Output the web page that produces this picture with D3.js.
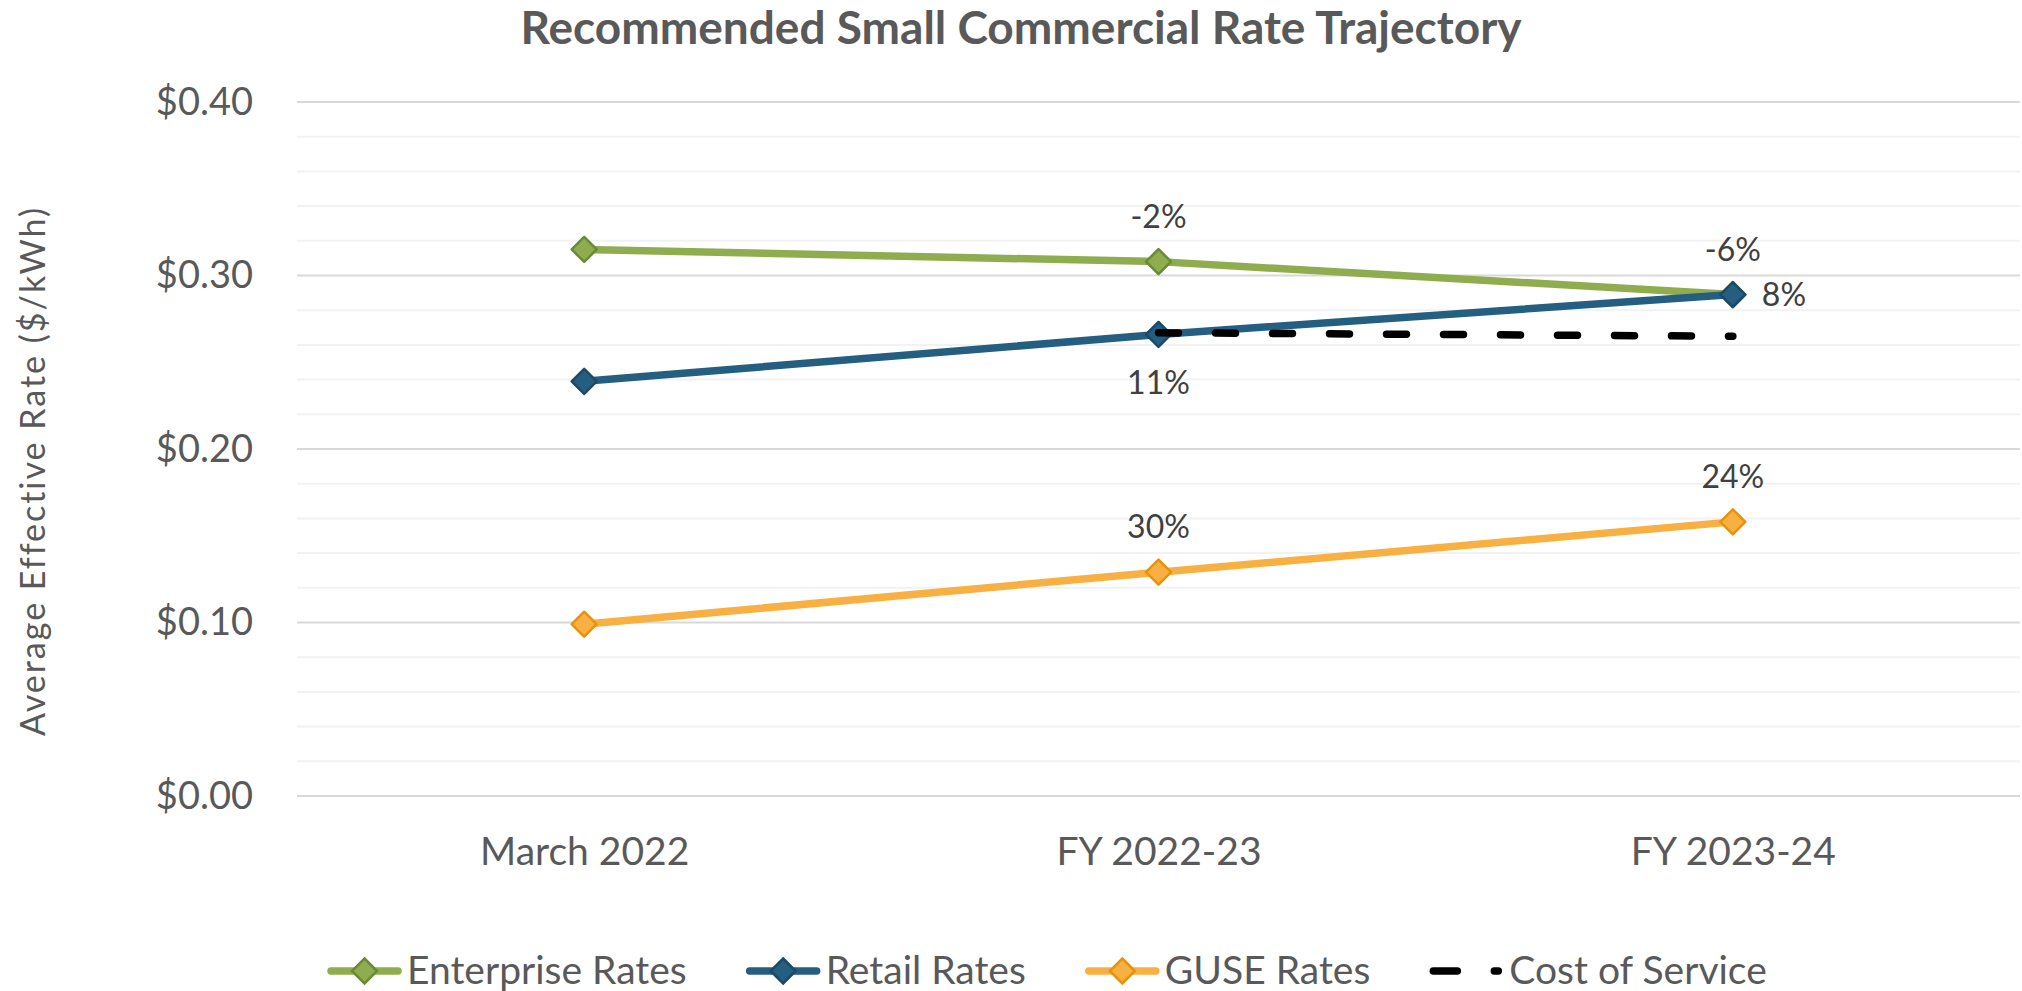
<!DOCTYPE html>
<html>
<head>
<meta charset="utf-8">
<script src="https://cdn.jsdelivr.net/npm/d3@7"></script>
<style>
  body { margin: 0; background: #fff; }
  text { font-family: Lato, "Open Sans", sans-serif; }
</style>
</head>
<body>
<svg id="chart"></svg>
<script>
var categories = ["March 2022", "FY 2022-23", "FY 2023-24"];
var seriesNames = ["Enterprise Rates", "Retail Rates", "GUSE Rates", "Cost of Service"];
var enterpriseRates = [0.315, 0.308, 0.289];
var retailRates = [0.239, 0.266, 0.289];
var guseRates = [0.099, 0.129, 0.158];
var costOfService = [null, 0.267, 0.265];
// percent change labels, per series and category
var enterpriseLabels = [null, "-2%", "-6%"];
var retailLabels = [null, "11%", "8%"];
var guseLabels = [null, "30%", "24%"];
var yTicks = [0, 0.1, 0.2, 0.3, 0.4];

var width = 2022, height = 991;
var margins = {top: 102, bottom: 195, left: 297, right: 2};

var svg = d3.select("#chart")
            .attr("width", width)
            .attr("height", height);

var xScale = d3.scalePoint()
               .domain(categories)
               .range([margins.left, width - margins.right])
               .padding(0.5);

var yScale = d3.scaleLinear()
               .domain([0, 0.4])
               .range([height - margins.bottom, margins.top]);

var series = [
  {name: seriesNames[0], values: enterpriseRates, labels: enterpriseLabels, color: "#8FAD4F", edge: "#6A8A36", marker: true},
  {name: seriesNames[1], values: retailRates, labels: retailLabels, color: "#245E80", edge: "#1C4A66", marker: true},
  {name: seriesNames[2], values: guseRates, labels: guseLabels, color: "#F9B042", edge: "#E8920C", marker: true},
  {name: seriesNames[3], values: costOfService, labels: [null, null, null], color: "#000000", edge: "#000000", marker: false, dash: "20 37"}
];

// gridlines, minor first
var minor = d3.range(0, 0.401, 0.02).filter(function(d){ return Math.round(d * 100) % 10 != 0; });
svg.append("g").selectAll("line")
   .data(minor).enter().append("line")
   .attr("x1", margins.left).attr("x2", width - margins.right)
   .attr("y1", function(d){ return yScale(d); })
   .attr("y2", function(d){ return yScale(d); })
   .attr("stroke", "#F2F2F2").attr("stroke-width", 2);

svg.append("g").selectAll("line")
   .data(yTicks).enter().append("line")
   .attr("x1", margins.left).attr("x2", width - margins.right)
   .attr("y1", function(d){ return yScale(d); })
   .attr("y2", function(d){ return yScale(d); })
   .attr("stroke", "#D9D9D9").attr("stroke-width", 2);

// y axis labels
var yAxis = d3.axisLeft(yScale)
              .tickValues(yTicks)
              .tickFormat(d3.format("$.2f"))
              .tickSize(0)
              .tickPadding(0);
var yG = svg.append("g")
            .attr("transform", "translate(253,0)")
            .call(yAxis);
yG.select(".domain").remove();
yG.selectAll("text")
  .attr("font-family", "Lato, sans-serif")
  .attr("font-size", 38)
  .attr("fill", "#595959");

// x axis labels
var xAxis = d3.axisBottom(xScale).tickSize(0).tickPadding(0);
var xG = svg.append("g")
            .attr("transform", "translate(0,836)")
            .call(xAxis);
xG.select(".domain").remove();
xG.selectAll("text")
  .attr("font-family", "Lato, sans-serif")
  .attr("font-size", 39)
  .attr("fill", "#595959")
  .attr("dy", 0)
  .attr("y", 29);

// title
svg.append("text")
   .attr("x", 1021).attr("y", 44)
   .attr("text-anchor", "middle")
   .attr("font-size", 46)
   .attr("font-weight", "bold")
   .attr("fill", "#595959")
   .text("Recommended Small Commercial Rate Trajectory");

// y axis title
svg.append("text")
   .attr("transform", "translate(45,471) rotate(-90)")
   .attr("text-anchor", "middle")
   .attr("font-size", 34)
   .attr("letter-spacing", 2)
   .attr("fill", "#595959")
   .text("Average Effective Rate ($/kWh)");

var line = d3.line()
             .defined(function(d){ return d != null; })
             .x(function(d, i){ return xScale(categories[i]); })
             .y(function(d){ return yScale(d); });

var diamond = function(size){
  return "M0," + (-size) + "L" + size + ",0L0," + size + "L" + (-size) + ",0Z";
};

var plot = svg.append("g").classed("plot", true);

series.forEach(function(s){
  var g = plot.append("g");
  g.append("path")
   .attr("d", line(s.values))
   .attr("fill", "none")
   .attr("stroke", s.color)
   .attr("stroke-width", 7.5)
   .attr("stroke-linejoin", "round")
   .attr("stroke-linecap", "round")
   .attr("stroke-dasharray", s.dash || null);
  if (s.marker) {
    g.selectAll("path.mk")
     .data(s.values.filter(function(d){ return d != null; }))
     .enter().append("path")
     .classed("mk", true)
     .attr("d", diamond(12.5))
     .attr("transform", function(d, i){ return "translate(" + xScale(categories[i]) + "," + yScale(d) + ")"; })
     .attr("fill", s.color)
     .attr("stroke", s.edge)
     .attr("stroke-width", 2.5)
     .attr("stroke-linejoin", "round");
  }
});

// data labels
var placeLabel = function(s, i){
  var x = xScale(categories[i]), y = yScale(s.values[i]);
  if (s.name == "Retail Rates" && i == 1) return {x: x, y: y + 60, anchor: "middle"};
  if (s.name == "Retail Rates" && i == 2) return {x: x + 29, y: y + 11, anchor: "start"};
  return {x: x, y: y - 34, anchor: "middle"};
};
series.forEach(function(s){
  s.labels.forEach(function(lab, i){
    if (!lab) return;
    var p = placeLabel(s, i);
    plot.append("text")
        .attr("x", p.x).attr("y", p.y)
        .attr("text-anchor", p.anchor)
        .attr("font-size", 32)
        .attr("fill", "#404040")
        .text(lab);
  });
});

// legend
var legend = svg.append("g").attr("transform", "translate(327,971)");
var lx = 0;
series.forEach(function(s){
  var item = legend.append("g").attr("transform", "translate(" + lx + ",0)");
  if (s.dash) {
    item.append("line")
        .attr("x1", 4).attr("x2", 69)
        .attr("stroke", s.color).attr("stroke-width", 7.5)
        .attr("stroke-linecap", "round")
        .attr("stroke-dasharray", "24 37");
  } else {
    item.append("line")
        .attr("x1", 4).attr("x2", 71)
        .attr("stroke", s.color).attr("stroke-width", 7.5)
        .attr("stroke-linecap", "round");
    item.append("path")
        .attr("d", diamond(12.5))
        .attr("transform", "translate(37.5,0)")
        .attr("fill", s.color).attr("stroke", s.edge).attr("stroke-width", 2.5);
  }
  var t = item.append("text")
              .attr("x", 80).attr("y", 13)
              .attr("font-size", 39)
              .attr("fill", "#595959")
              .text(s.name);
  lx += 80 + t.node().getComputedTextLength() + 59;
});
</script>
</body>
</html>
